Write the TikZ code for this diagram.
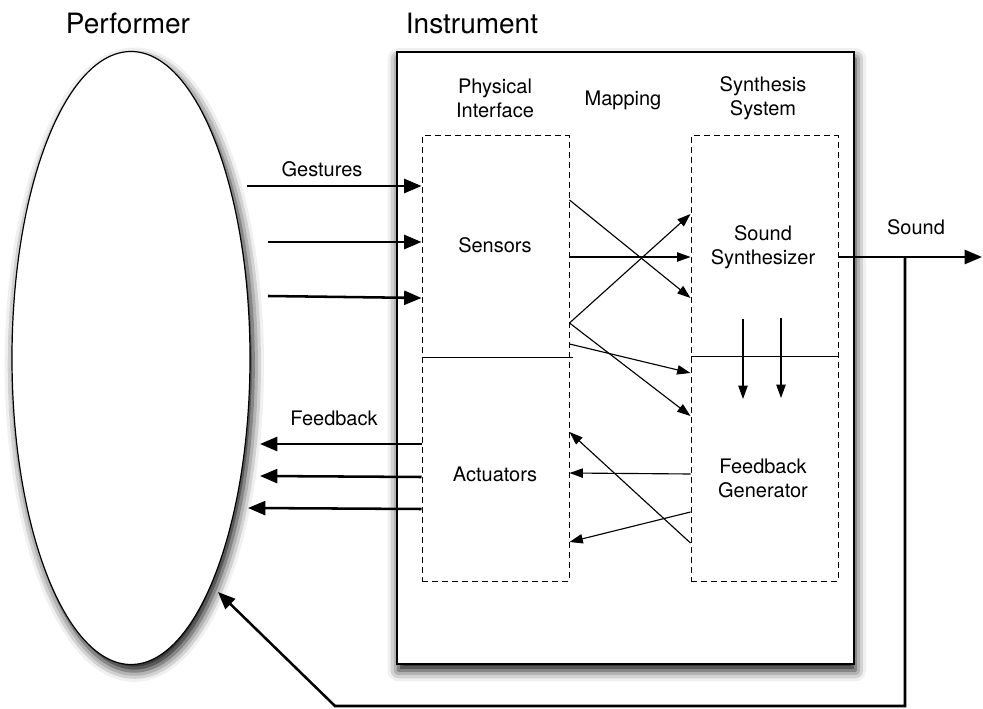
\documentclass[tikz,border=0pt]{standalone}
\usepackage{fontspec}
\setmainfont{TeX Gyre Heros}
\usetikzlibrary{arrows.meta,shapes.geometric,shadows.blur}

\begin{document}
\begin{tikzpicture}[x=0.75pt,y=-0.75pt,
  lbl/.style={font=\fontsize{15}{18}\selectfont, align=center, inner sep=0pt},
  titletext/.style={font=\fontsize{21}{25}\selectfont, inner sep=0pt, anchor=base},
  bigarrow/.style={line width=1.9pt, -{Triangle[length=13pt,width=10.5pt]}},
  maparrow/.style={line width=0.85pt, -{Triangle[length=10pt,width=7pt]}},
  dashbox/.style={draw, dash pattern=on 4.5pt off 3pt, line width=0.75pt, inner sep=0pt},
  softshadow/.style={blur shadow={shadow xshift=#1, shadow yshift=-5pt,
      shadow blur radius=8pt, shadow opacity=95}},
]
\useasboundingbox (0,0) rectangle (983,709);

% performer and instrument
\node[ellipse, draw, fill=white, line width=0.9pt, inner sep=0pt,
      minimum width=178.5pt, minimum height=459.75pt, softshadow=2.5pt]
      (perf) at (131,358) {};
\node[draw, fill=white, line width=1.1pt, inner sep=0pt,
      minimum width=342.75pt, minimum height=459pt, softshadow=1pt]
      (inst) at (625.5,358) {};

% titles
\node[titletext] (perfT) at (128,34) {Performer};
\node[titletext] (instT) at (472,34) {Instrument};

% sub-system boxes
\node[dashbox, minimum width=110.25pt, minimum height=333.75pt] (phys) at (495.5,358.5) {};
\node[dashbox, minimum width=110.25pt, minimum height=333.75pt] (synth) at (764.5,358.5) {};
\draw[line width=0.75pt] (phys.west |- 0,358) -- ([xshift=2.5pt]phys.east |- 0,358);
\draw[line width=0.75pt] (synth.west |- 0,357) -- (synth.east |- 0,357);

% labels
\node[lbl] (physL) at (495,98) {Physical\\Interface};
\node[lbl] (mapL) at (623,100) {Mapping};
\node[lbl] (synL) at (763,98) {Synthesis\\System};
\node[lbl] (sens) at (495,245) {Sensors};
\node[lbl] (act) at (495,474) {Actuators};
\node[lbl] (sndS) at (763,247) {Sound\\Synthesizer};
\node[lbl] (fbG) at (763,478) {Feedback\\Generator};
\node[lbl] (gestL) at (322,169) {Gestures};
\node[lbl] (fbL) at (334,418) {Feedback};
\node[lbl] (sndL) at (916,227) {Sound};

% gestures into the interface
\draw[bigarrow] (247,186) -- (phys.west |- 0,186);
\draw[bigarrow] (268,242) -- (phys.west |- 0,242);
\draw[bigarrow] (268,296) -- (phys.west |- 0,298);

% feedback back to the performer
\draw[bigarrow] (phys.west |- 0,444) -- (260,444);
\draw[bigarrow] (phys.west |- 0,477) -- (260,476);
\draw[bigarrow] (phys.west |- 0,509) -- (248,508);

% mapping between interface and synthesis
\draw[maparrow] (phys.east |- 0,200) -- (synth.west |- 0,298);
\draw[maparrow] (phys.east |- 0,257) -- (synth.west |- 0,257);
\draw[maparrow] (phys.east |- 0,323) -- (synth.west |- 0,214);
\draw[maparrow] (phys.east |- 0,323) -- (synth.west |- 0,416);
\draw[maparrow] (phys.east |- 0,344) -- (synth.west |- 0,373);
\draw[maparrow] (synth.west |- 0,474) -- (phys.east |- 0,473);
\draw[maparrow] (synth.west |- 0,543) -- (phys.east |- 0,432);
\draw[maparrow] (synth.west |- 0,512) -- (phys.east |- 0,542);

% synthesizer driving the feedback generator
\coordinate (d1a) at (743,319);
\coordinate (d1b) at (743,399);
\coordinate (d2a) at (781,318);
\coordinate (d2b) at (781,398);
\draw[maparrow] (d1a) -- (d1b);
\draw[maparrow] (d2a) -- (d2b);

% sound output and acoustic feedback loop
\coordinate (soundEnd) at (982,257);
\coordinate (tap) at (905,257);
\coordinate (bend) at (335,706);
\coordinate (earIn) at (218,592);
\draw[bigarrow] (synth.east |- 0,257) -- (soundEnd);
\draw[bigarrow, line join=miter] (tap) |- (bend) -- (earIn);
\end{tikzpicture}
\end{document}
